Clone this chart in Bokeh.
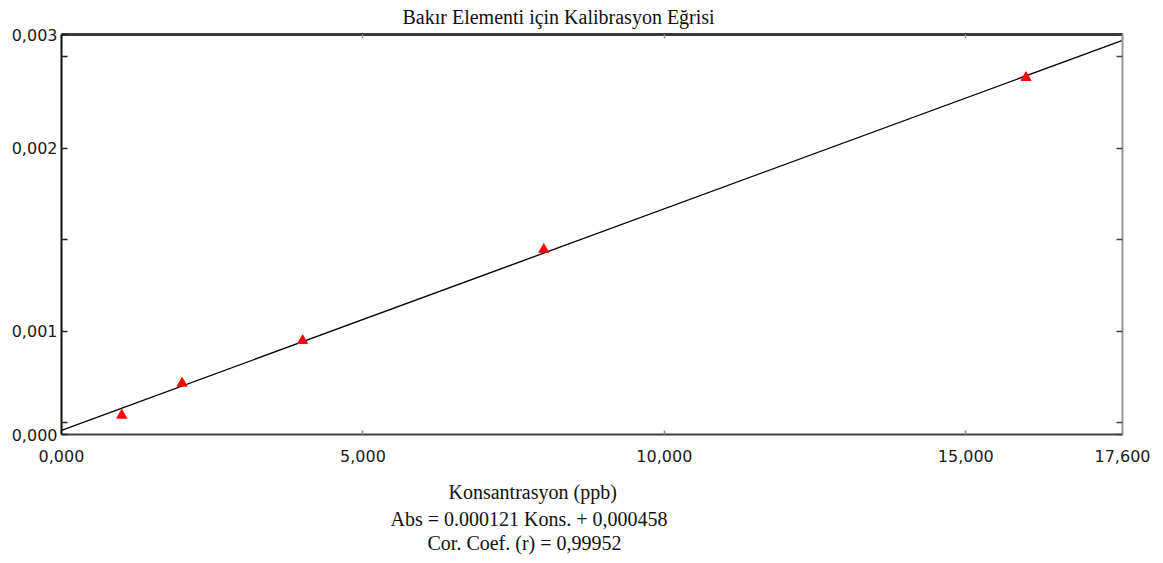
from bokeh.plotting import figure
from bokeh.models import (LinearAxis, FixedTicker, CustomJSTickFormatter,
                          Range1d, Title)
from bokeh.embed import file_html
from bokeh.resources import INLINE

# Calibration standards (ppb) and measured absorbance
konsantrasyon = [1, 2, 4, 8, 16]
absorbans = [0.000540, 0.000715, 0.000948, 0.001446, 0.002385]

# Least-squares line as reported
egim = 0.000121
kesisim = 0.000458
kor_katsayi = "0,99952"

# Axis limits and ticks
x_araligi = (0.0, 17.6)
y_araligi = (0.000435, 0.00262)
x_tikler = [0.0, 5.0, 10.0, 15.0, 17.6]
y_tikler = [y_araligi[0], 0.001, 0.002, y_araligi[1]]
y_ara_tikler = [0.0005, 0.0015, 0.0025]

baslik = "Bakır Elementi için Kalibrasyon Eğrisi"
x_etiket = "Konsantrasyon (ppb)"

W, H = 1163, 563
SERIF = "Liberation Serif"
SANS = "DejaVu Sans"

p = figure(width=W, height=H, output_backend="svg", toolbar_location=None,
           x_range=Range1d(*x_araligi), y_range=Range1d(*y_araligi),
           x_axis_location=None, y_axis_location=None, title=None,
           min_border_left=61, min_border_right=41,
           min_border_top=34, min_border_bottom=129)
for g in p.grid:
    g.visible = False
p.outline_line_color = None
p.background_fill_color = "white"
p.border_fill_color = "white"

virgul = CustomJSTickFormatter(code="return tick.toFixed(3).replace('.', ',');")
bos = CustomJSTickFormatter(code="return '';")


def stil(ax, renk, kalinlik, tik, tik_renk):
    ax.axis_line_color = renk
    ax.axis_line_width = kalinlik
    ax.major_tick_in = tik
    ax.major_tick_out = 0
    ax.minor_tick_in = tik
    ax.minor_tick_out = 0
    ax.major_tick_line_color = tik_renk
    ax.minor_tick_line_color = tik_renk
    ax.major_tick_line_width = 1.5
    ax.minor_tick_line_width = 1.5
    ax.major_label_text_font = SANS
    ax.major_label_text_font_size = "16px"
    ax.major_label_text_color = "#1a1a1a"


y_tikci = FixedTicker(ticks=y_tikler, minor_ticks=y_ara_tikler)
x_tikci = FixedTicker(ticks=x_tikler)

sol = LinearAxis(ticker=y_tikci, formatter=virgul, major_label_standoff=4)
stil(sol, "#111111", 2, 6, "#222222")
p.add_layout(sol, "left")

sag = LinearAxis(ticker=y_tikci, formatter=bos, major_label_standoff=0)
stil(sag, "#9a9a9a", 2, 6, "#444444")
p.add_layout(sag, "right")

alt = LinearAxis(ticker=x_tikci, formatter=virgul, major_label_standoff=15)
stil(alt, "#404040", 2, 4, "#8a8a8a")
p.add_layout(alt, "below")

ust = LinearAxis(ticker=x_tikci, formatter=bos, major_label_standoff=0)
stil(ust, "#3a3a3a", 3, 4, "#9a9a9a")
p.add_layout(ust, "above")

# Fitted calibration line across the full x range
cizgi_x = list(x_araligi)
cizgi_y = [egim * x + kesisim for x in cizgi_x]
p.line(cizgi_x, cizgi_y, line_color="black", line_width=1.3)

# Standards
p.scatter(konsantrasyon, absorbans, marker="triangle", size=10,
          fill_color="#ff0000", line_color="#ff0000")


def yazi(metin, yer, kaydir, standoff, hiza="middle", ust_bosluk=0):
    # padding tuple is (left, right, top, bottom)
    p.add_layout(Title(text=metin, align="left", offset=kaydir,
                       standoff=standoff, vertical_align=hiza,
                       padding=(0, 0, ust_bosluk, 0),
                       text_font=SERIF, text_font_size="20px",
                       text_font_style="normal", text_color="#111111"), yer)


denklem = f"Abs = {egim:.6f} Kons. + " + f"{kesisim:.6f}".replace(".", ",")
yazi(baslik, "above", 341, 10, "top")
yazi(x_etiket, "below", 387, 6, ust_bosluk=12)
yazi(denklem, "below", 329, 0)
yazi(f"Cor. Coef. (r) = {kor_katsayi}", "below", 366, 0)

open("out.html", "w").write(file_html(p, INLINE))
